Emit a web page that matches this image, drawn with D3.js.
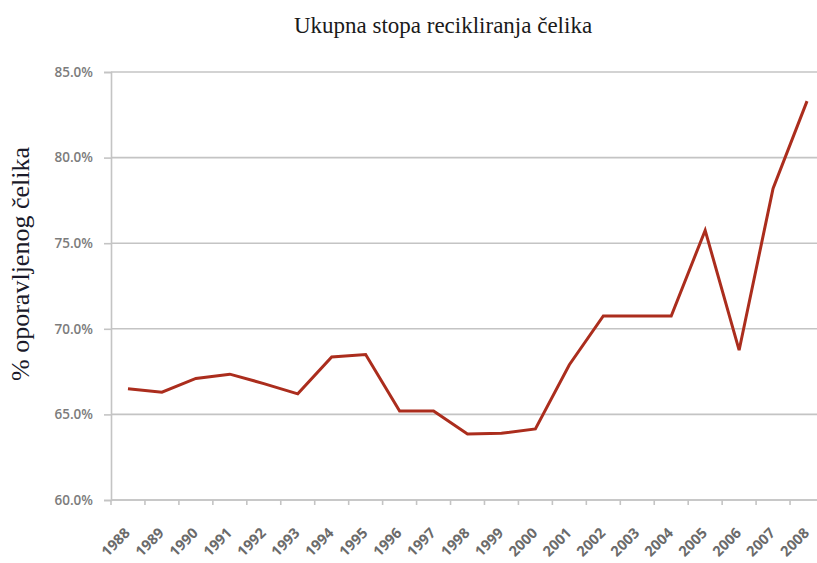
<!DOCTYPE html>
<html>
<head>
<meta charset="utf-8">
<script src="https://cdn.jsdelivr.net/npm/d3@7"></script>
<style>
  body { margin: 0; background: #fff; }
  svg { display: block; }
</style>
</head>
<body>
<svg width="817" height="563"></svg>
<script>
var years = ["1988", "1989", "1990", "1991", "1992", "1993", "1994", "1995", "1996", "1997",
             "1998", "1999", "2000", "2001", "2002", "2003", "2004", "2005", "2006", "2007", "2008"];
var rates = [66.5, 66.3, 67.1, 67.35, 66.8, 66.2, 68.35, 68.5, 65.2, 65.2,
             63.85, 63.9, 64.15, 67.9, 70.75, 70.75, 70.75, 75.75, 68.75, 78.2, 83.3];
var yTicks = [60, 65, 70, 75, 80, 85];

var svg = d3.select("svg");
var margin = {left: 111, top: 72, right: -7, bottom: 63};
var width = 817 - margin.left - margin.right,
    height = 563 - margin.top - margin.bottom;

var g = svg.append("g")
    .attr("transform", "translate(" + margin.left + "," + margin.top + ")");

var x = d3.scaleBand()
    .domain(years)
    .range([0, width]);

var y = d3.scaleLinear()
    .domain([60, 85])
    .range([height, 0]);

// gridlines
g.append("g")
    .selectAll("line")
    .data(yTicks)
  .enter().append("line")
    .attr("x1", 0)
    .attr("x2", width)
    .attr("y1", function(d) { return y(d); })
    .attr("y2", function(d) { return y(d); })
    .attr("stroke", "#c4c4c4")
    .attr("stroke-width", 1.6);

var yAxis = d3.axisLeft(y)
    .tickValues(yTicks)
    .tickSize(7)
    .tickFormat(function(d) { return d.toFixed(1) + "%"; });

var yAxisG = g.append("g").call(yAxis);
yAxisG.select(".domain").attr("stroke", "#c4c4c4").attr("stroke-width", 1.6);
yAxisG.selectAll(".tick line").attr("stroke", "#c4c4c4").attr("stroke-width", 1.6);
yAxisG.selectAll(".tick text")
    .attr("x", -18)
    .attr("fill", "#7c7c7c")
    .style("font-family", "'Open Sans', sans-serif")
    .style("font-size", "13.5px")
    .style("font-weight", "600");

// x axis: ticks between categories
var xAxisG = g.append("g")
    .attr("transform", "translate(0," + height + ")");

xAxisG.append("line")
    .attr("x1", 0)
    .attr("x2", width)
    .attr("stroke", "#c4c4c4")
    .attr("stroke-width", 1.6);

xAxisG.selectAll(".xtick")
    .data(years)
  .enter().append("line")
    .attr("class", "xtick")
    .attr("x1", function(d) { return x(d); })
    .attr("x2", function(d) { return x(d); })
    .attr("y1", 0)
    .attr("y2", 5)
    .attr("stroke", "#c4c4c4")
    .attr("stroke-width", 1.6);

xAxisG.selectAll(".xlabel")
    .data(years)
  .enter().append("text")
    .attr("class", "xlabel")
    .attr("transform", function(d) {
      return "translate(" + (x(d) + x.bandwidth() / 2 + 3) + ",34) rotate(-45)";
    })
    .attr("text-anchor", "end")
    .attr("fill", "#6a6a6a")
    .style("font-family", "'Open Sans', sans-serif")
    .style("font-size", "14.5px")
    .style("font-weight", "700")
    .text(function(d) { return d; });

// line
var line = d3.line()
    .x(function(d, i) { return x(years[i]) + x.bandwidth() / 2; })
    .y(function(d) { return y(d); });

g.append("path")
    .datum(rates)
    .attr("fill", "none")
    .attr("stroke", "#ab2d1d")
    .attr("stroke-width", 3)
    .attr("stroke-linejoin", "miter")
    .attr("d", line);

// titles
svg.append("text")
    .attr("x", 443)
    .attr("y", 33)
    .attr("text-anchor", "middle")
    .attr("fill", "#1a1a1a")
    .style("font-family", "'Liberation Serif', serif")
    .style("font-size", "23px")
    .text("Ukupna stopa recikliranja čelika");

svg.append("text")
    .attr("transform", "translate(29," + 264 + ") rotate(-90)")
    .attr("text-anchor", "middle")
    .attr("fill", "#1a1a2a")
    .style("font-family", "'Liberation Serif', serif")
    .style("font-size", "26px")
    .text("% oporavljenog čelika");
</script>
</body>
</html>
